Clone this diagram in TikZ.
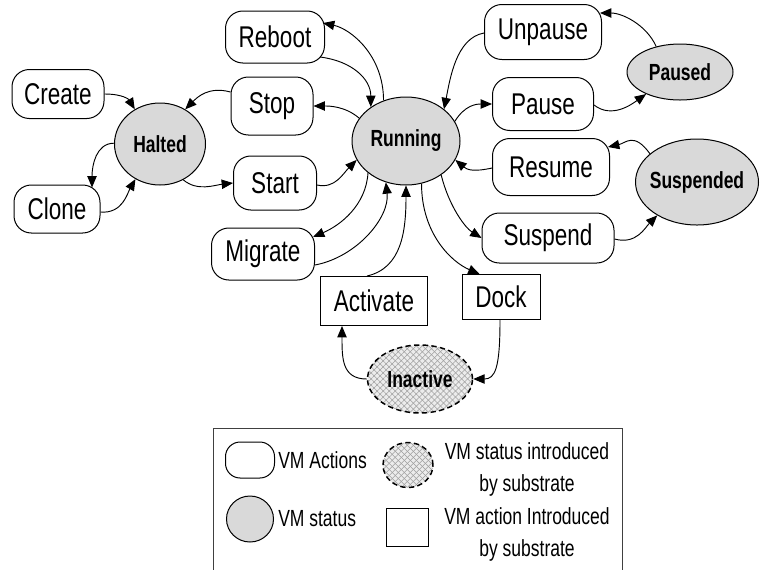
\documentclass[tikz,border=0pt]{standalone}
\usepackage{fontspec}
\setmainfont{Liberation Sans}[FakeStretch=0.75]
\usetikzlibrary{arrows.meta,shapes.geometric,patterns.meta,calc}
\definecolor{statefill}{HTML}{D9D9D9}
\begin{document}
\begin{tikzpicture}[x=0.75pt,y=-0.75pt,
  action/.style={draw, rounded corners=13pt, line width=0.75pt, fill=white,
    inner sep=0pt, font=\fontsize{22.5}{27}\selectfont},
  subaction/.style={draw, line width=0.75pt, fill=white, inner sep=0pt,
    font=\fontsize{22.5}{27}\selectfont},
  status/.style={ellipse, draw, fill=statefill, line width=0.75pt, inner sep=0pt,
    font=\bfseries\fontsize{17.5}{21}\selectfont},
  substatus/.style={ellipse, draw, dashed, dash pattern=on 4pt off 2.5pt, line width=1.1pt,
    preaction={fill=gray!15},
    preaction={pattern={Lines[angle=45,distance=3.2pt,line width=0.4pt]}, pattern color=gray!75},
    preaction={pattern={Lines[angle=-45,distance=3.2pt,line width=0.4pt]}, pattern color=gray!75},
    inner sep=0pt, font=\bfseries\fontsize{17.5}{21}\selectfont},
  legendtext/.style={font=\fontsize{17.5}{24}\selectfont, inner sep=0pt},
  flow/.style={-{Triangle[length=8.5pt,width=7pt]}, line width=0.7pt},
]
\useasboundingbox (0,0) rectangle (762,569);

% ---- VM states ----
\node[status, minimum width=68.25pt, minimum height=61.5pt] (Halted) at (160,144) {\makebox[0pt]{Halted}};
\node[status, minimum width=81pt, minimum height=66pt] (Running) at (406,141) {\makebox[0pt]{Running}};
\node[status, minimum width=79.5pt, minimum height=42pt] (Paused) at (680,72) {\makebox[0pt]{Paused}};
\node[status, minimum width=92.25pt, minimum height=64.5pt] (Suspended) at (697,182) {\makebox[0pt]{Suspended}};
\node[substatus, minimum width=78.75pt, minimum height=51pt] (Inactive) at (420,379) {\makebox[0pt]{Inactive}};

% ---- VM actions ----
\node[action, minimum width=69pt, minimum height=36.75pt] (Create) at (58,94) {Create};
\node[action, minimum width=64.5pt, minimum height=36pt] (Clone) at (57,209) {Clone};
\node[action, minimum width=74.25pt, minimum height=39pt] (Reboot) at (275,37) {Reboot};
\node[action, minimum width=61.5pt, minimum height=43.5pt] (Stop) at (272,106) {Stop};
\node[action, minimum width=62.25pt, minimum height=40.5pt] (Start) at (275,183) {Start};
\node[action, minimum width=77.25pt, minimum height=39pt] (Migrate) at (263,254) {Migrate};
\node[action, minimum width=87.75pt, minimum height=41.25pt] (Unpause) at (543,32) {Unpause};
\node[action, minimum width=75.75pt, minimum height=39.75pt] (Pause) at (543,104) {Pause};
\node[action, minimum width=87.75pt, minimum height=42.75pt] (Resume) at (551,167) {Resume};
\node[action, minimum width=99pt, minimum height=37.5pt] (Suspend) at (548,238) {Suspend};
\node[subaction, minimum width=80.25pt, minimum height=36.75pt] (Activate) at (374,301) {Activate};
\node[subaction, minimum width=58.5pt, minimum height=33.75pt] (Dock) at (501,297) {Dock};

% ---- transitions ----
\draw[flow] (Create.east) .. controls +(18,0) and +(-6,-10) .. (Halted.126);
\draw[flow] (Halted.179) .. controls +(-18,0) and +(0,-22) .. ($(Clone.north)+(35,3)$);
\draw[flow] ($(Clone.east)+(0,3)$) .. controls +(22,2) and +(-8,14) .. (Halted.235);
\draw[flow] ($(Stop.west)+(0,-14)$) .. controls +(-22,-6) and +(12,-12) .. (Halted.54);
\draw[flow] (Halted.303) .. controls +(14,12) and +(-18,2) .. (Start.west);
\draw[flow] ($(Start.east)+(0,2)$) .. controls +(18,4) and +(-14,14) .. (Running.201);
\draw[flow] (Running.154) .. controls +(-14,-12) and +(16,0) .. (Stop.east);
\draw[flow] ($(Reboot.east)+(-5,20)$) .. controls +(32,4) and +(0,-28) .. (Running.136);
\draw[flow] (Running.119) .. controls +(0,-45) and +(28,6) .. ($(Reboot.east)+(-2,-14)$);
\draw[flow] (Running.220) .. controls +(-2,32) and +(28,-12) .. ($(Migrate.east)+(-2,-17)$);
\draw[flow] ($(Migrate.east)+(0,11)$) .. controls +(42,-8) and +(4,35) .. (Running.244);
\draw[flow] ($(Activate.north)+(-7,0)$) .. controls +(35,-8) and +(0,45) .. (Running.270);
\draw[flow] (Running.290) .. controls +(0,50) and +(-28,-12) .. ($(Dock.north west)+(18,0)$);
\draw[flow] (Running.316) .. controls +(8,32) and +(-16,-10) .. (Suspend.west);
\draw[flow] ($(Resume.west)+(0,1)$) .. controls +(-18,4) and +(12,10) .. (Running.339);
\draw[flow] (Running.22) .. controls +(10,-16) and +(-16,0) .. (Pause.west);
\draw[flow] ($(Unpause.west)+(0,1)$) .. controls +(-28,5) and +(6,-30) .. (Running.40);
\draw[flow] ($(Pause.east)+(0,1)$) .. controls +(18,14) and +(-14,10) .. (Paused.213);
\draw[flow] (Paused.133) .. controls +(-10,-22) and +(22,0) .. ($(Unpause.east)+(-2,-19)$);
\draw[flow] (Suspended.149) .. controls +(-16,-22) and +(18,-4) .. ($(Resume.east)+(-2,-20)$);
\draw[flow] ($(Suspend.east)+(0,1)$) .. controls +(22,6) and +(-12,12) .. (Suspended.220);
\draw[flow] (Inactive.180) .. controls +(-25,0) and +(0,32) .. ($(Activate.south)+(-32,0)$);
\draw[flow] ($(Dock.south)+(-1,0)$) .. controls +(0,48) and +(22,0) .. (Inactive.0);

% ---- legend ----
\draw[line width=0.6pt, black!75] (213,575) -- (213,428) -- (622,428) -- (622,575);
\node[action, minimum width=36.75pt, minimum height=27pt, rounded corners=11pt] (keyAction) at (250,460) {};
\node[legendtext, anchor=west] (keyActionText) at (278,460) {VM Actions};
\node[status, minimum width=35.25pt, minimum height=34.5pt] (keyStatus) at (250,519) {};
\node[legendtext, anchor=west] (keyStatusText) at (278,519) {VM status};
\node[substatus, minimum width=37.5pt, minimum height=33.75pt] (keySubStatus) at (408,465) {};
\node[legendtext, align=center] (keySubStatusText) at (527,469) {VM status introduced\\by substrate};
\node[subaction, minimum width=31.5pt, minimum height=28.5pt] (keySubAction) at (407,527) {};
\node[legendtext, align=center] (keySubActionText) at (527,534) {VM action Introduced\\by substrate};
\end{tikzpicture}
\end{document}
